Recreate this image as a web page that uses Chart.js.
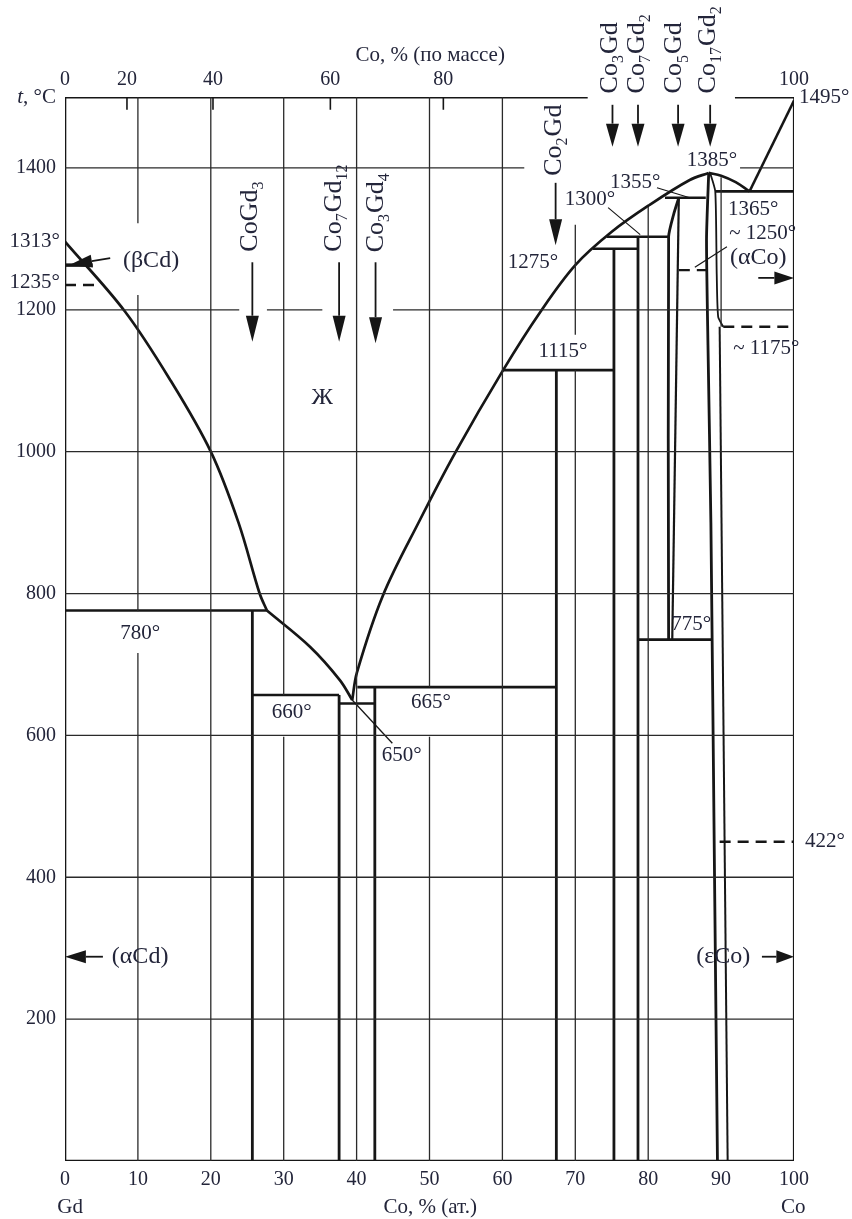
<!DOCTYPE html>
<html><head><meta charset="utf-8">
<script src="https://cdn.jsdelivr.net/npm/chart.js@4.4.1/dist/chart.umd.min.js"></script>
<style>html,body{margin:0;padding:0;background:#fff}#wrap{width:852px;height:1219px;position:relative}</style>
</head><body><div id="wrap"><canvas id="c"></canvas></div>
<script>
const INK = '#161616';
const GRID = '#2a2a2a';
const TXT = '#23253a';
const SERIF = '"Liberation Serif", "Times New Roman", serif';

// ---- axes ----
const xTickValues = [0,10,20,30,40,50,60,70,80,90,100];
const yTickValues = [200,400,600,800,1000,1200,1400];
const topTickPositions = [0, 8.5, 20.3, 36.4, 51.9, 100];   // where the mass-% marks sit (at.% scale)
const topTickLabels = ['0','20','40','60','80','100'];

// ---- phase boundaries  [at.% Co, °C] ----
const liquidusGd   = [[0,1296],[8.2,1198],[14.5,1100],[20,1000],[23.8,900],[26.7,800],[27.7,776]];
const liquidusMid  = [[27.7,776],[33.6,725],[37.7,678],[39.4,650]];
const liquidusCo   = [[39.4,650],[40.05,689],[43.6,797],[48.7,904],[53.5,998],[60.1,1115],[65.2,1197],[70.0,1263],[75.0,1310],[80.2,1348],[85.7,1383],[88.3,1393]];
const liquidusPeak = [[88.3,1393],[90,1389],[92,1380],[93.9,1367]];
const liquidusEnd  = [[93.9,1367],[100,1495]];
const leader650    = [[39.4,650],[44.9,589]];

const iso780  = [[0,776],[27.7,776]];
const iso660  = [[25.7,657],[37.6,657]];
const iso650  = [[37.6,645],[42.5,645]];
const iso665  = [[40.1,668],[67.4,668]];
const iso1115 = [[60.1,1115],[75.3,1115]];
const iso1275 = [[72.4,1286],[78.6,1286]];
const iso1300 = [[74.3,1303],[82.8,1303]];
const iso1355 = [[82.3,1358],[87.9,1358]];
const iso775  = [[78.6,735],[88.7,735]];
const iso1365 = [[89.2,1367],[100,1367]];
const solidusBetaGd = [[0,1263],[3.8,1263]];

const dash1235 = [[0,1235],[4.4,1235]];
const dash1250 = [[84.2,1256],[88.1,1256]];
const dash1175 = [[90.3,1176],[100,1176]];
const dash422  = [[89.8,450],[100,450]];

const lineCoGd3   = [[25.7,776],[25.7,0]];
const lineCo7Gd12 = [[37.6,657],[37.6,0]];
const lineCo3Gd4  = [[42.5,668],[42.5,0]];
const lineCo2Gd   = [[67.4,1115],[67.4,0]];
const lineCo3Gd   = [[75.3,1286],[75.3,0]];
const lineCo7Gd2  = [[78.6,1303],[78.6,0]];
const lineCo5GdL  = [[82.8,735],[82.8,1303],[83.5,1335],[84.2,1358]];
const lineCo5GdR  = [[83.3,735],[84.2,1358]];
const lineCo17Gd2 = [[88.3,1393],[88.0,1300],[88.2,1150],[88.6,900],[89.1,400],[89.5,0]];
const lineAlphaCo = [[88.5,1393],[89.2,1367],[89.4,1250],[89.6,1190],[90.3,1176]];
const lineEpsCo   = [[89.8,1176],[90.9,0]];

// leader lines of the labels
const leader1355 = [[81.2,1372],[85.7,1358]];
const leader1300 = [[74.5,1344],[78.9,1306]];
const leader1250 = [[86.4,1260],[90.8,1289]];

// ---- grid (value : visible spans) ----
const gridX = {10:[[0,716],[775,1221],[1322,1500]],20:[[0,1500]],30:[[0,598],[657,1500]],40:[[0,1500]],50:[[0,598],[668,1500]],60:[[0,1500]],70:[[0,1115],[1165,1320]],80:[[0,1345]],90:[[1176,1387]]};
const gridY = {200:[[0,100]],400:[[0,100]],600:[[0,100]],800:[[0,100]],1000:[[0,100]],1200:[[0,23.9],[27.7,35.3],[45,100]],1400:[[0,63],[92.6,100]]};

// frame
const frameLeft = [[0,0],[0,1500]];
const frameBottom = [[0,0],[100,0]];
const frameRight = [[100,0],[100,1495]];
const frameTopA = [[0,1500],[71.7,1500]];
const frameTopB = [[91.9,1500],[100,1500]];

// ---- texts ----
const textLabels = [
 ['1385°',88.75,1411,'n','center'],
 ['1355°',78.2,1380,'n','center'],
 ['1300°',72.0,1355,'n','center'],
 ['1275°',64.2,1267,'n','center'],
 ['1365°',94.4,1341,'n','center'],
 ['~ 1250°',95.7,1308,'n','center'],
 ['(αCo)',95.1,1273,'p','center'],
 ['~ 1175°',96.2,1146,'n','center'],
 ['1115°',68.3,1141,'n','center'],
 ['Ж',35.3,1076,'p','center'],
 ['780°',10.3,744,'n','center'],
 ['660°',31.1,633,'n','center'],
 ['665°',50.2,646,'n','center'],
 ['650°',46.2,571,'n','center'],
 ['775°',85.9,757,'n','center'],
 ['422°',101.5,450,'n','left'],
 ['1495°',100.7,1500,'n','left'],
 ['1313°',-0.7,1297,'n','right'],
 ['1235°',-0.7,1238,'n','right'],
 ['(αCd)',10.3,288,'p','center'],
 ['(εCo)',90.3,288,'p','center'],
 ['(βCd)',11.8,1269,'p','center'],
 ['Co, % (по массе)',50.1,1559,'a','center'],
 ['Gd',0.7,-65,'a','center'],
 ['Co, % (ат.)',50.1,-65,'a','center'],
 ['Co',99.9,-65,'a','center']
];
const compoundLabels = [
 {parts:[['Co',0],['Gd',0],['3',1]], x:25.4, t:1282},
 {parts:[['Co',0],['7',1],['Gd',0],['12',1]], x:36.9, t:1282},
 {parts:[['Co',0],['3',1],['Gd',0],['4',1]], x:42.7, t:1281},
 {parts:[['Co',0],['2',1],['Gd',0]], x:67.1, t:1389},
 {parts:[['Co',0],['3',1],['Gd',0]], x:74.8, t:1505},
 {parts:[['Co',0],['7',1],['Gd',0],['2',1]], x:78.5, t:1505},
 {parts:[['Co',0],['5',1],['Gd',0]], x:83.6, t:1505},
 {parts:[['Co',0],['17',1],['Gd',0],['2',1]], x:88.2, t:1505}
];
const arrows = [
 [25.7,1267,25.7,1155],[37.6,1267,37.6,1155],[42.6,1267,42.6,1153],[67.3,1379,67.3,1291],
 [75.1,1489,75.1,1430],[78.6,1489,78.6,1430],[84.1,1489,84.1,1430],[88.5,1489,88.5,1430],
 [5.2,288,0,288],[95.6,288,100,288],[95.1,1245,100,1245],[6.2,1273,0.6,1263]
];

// ---- datasets ----
const datasets = [];
function add(points, width, extra){
  datasets.push(Object.assign({data:points.map(p=>({x:p[0],y:p[1]})),showLine:true,pointRadius:0,pointHoverRadius:0,
    borderColor:INK,borderWidth:width,fill:false,tension:0,borderCapStyle:'butt'}, extra||{}));
}
Object.keys(gridX).forEach(v=>gridX[v].forEach(s=>add([[+v,s[0]],[+v,s[1]]],1.3,{borderColor:GRID})));
Object.keys(gridY).forEach(v=>gridY[v].forEach(s=>add([[s[0],+v],[s[1],+v]],1.3,{borderColor:GRID})));
topTickPositions.forEach(p=>add([[p,1500],[p,1482]],1.6));
const curve = {tension:0.35};
[liquidusGd,liquidusMid,liquidusCo,liquidusPeak].forEach(c=>add(c,2.7,curve));
add(liquidusEnd,2.5);
add(leader650,1.3);
[iso780,iso660,iso650,iso665,iso1115,iso1275,iso1300,iso1355,iso775,iso1365].forEach(c=>add(c,2.6));
add(solidusBetaGd,3.5);
[dash1235,dash1250,dash1175,dash422].forEach(c=>add(c,2.4,{borderDash:[11,7]}));
[lineCoGd3,lineCo7Gd12,lineCo3Gd4,lineCo2Gd,lineCo3Gd,lineCo7Gd2].forEach(c=>add(c,2.8));
add(lineCo5GdL,2.8,{tension:0.2}); add(lineCo5GdR,2.2);
add(lineCo17Gd2,2.8,{tension:0.2}); add(lineAlphaCo,1.8,{tension:0.2}); add(lineEpsCo,2.0);
[leader1355,leader1300,leader1250].forEach(c=>add(c,1.2));
add(frameLeft,2.6); add(frameBottom,2.6); add(frameRight,2.2); add(frameTopA,3.2); add(frameTopB,3.2);

// ---- drawing of texts and arrows ----
const FONT_N = '21px '+SERIF, FONT_P = '24px '+SERIF, FONT_A = '21px '+SERIF;
const annot = {
  id:'annot',
  afterDatasetsDraw(chart){
    const ctx = chart.ctx, X = v=>chart.scales.x.getPixelForValue(v), Y = v=>chart.scales.y.getPixelForValue(v);
    ctx.save();
    ctx.fillStyle = TXT; ctx.textBaseline = 'middle';
    textLabels.forEach(([t,x,y,k,al])=>{
      ctx.font = k==='p'?FONT_P:(k==='a'?FONT_A:FONT_N);
      ctx.textAlign = al; ctx.fillText(t, X(x), Y(y));
    });
    // t, °C
    ctx.textAlign='left';
    ctx.font = 'italic 21px '+SERIF; const w1 = ctx.measureText('t').width;
    ctx.font = '21px '+SERIF; const w2 = ctx.measureText(', °C').width;
    const x0 = X(0)-9-w1-w2, y0 = Y(1500);
    ctx.font = 'italic 21px '+SERIF; ctx.fillText('t', x0, y0);
    ctx.font = '21px '+SERIF; ctx.fillText(', °C', x0+w1, y0);
    // rotated compound labels
    compoundLabels.forEach(c=>{
      ctx.save(); ctx.translate(X(c.x), Y(c.t)); ctx.rotate(-Math.PI/2);
      let pos = 0;
      c.parts.forEach(([s,sub])=>{
        ctx.font = sub? '16px '+SERIF : '26px '+SERIF;
        ctx.fillText(s, pos, sub? 9 : 0);
        pos += ctx.measureText(s).width + (sub?1:0);
      });
      ctx.restore();
    });
    // arrows
    ctx.strokeStyle = INK; ctx.fillStyle = INK; ctx.lineWidth = 1.8;
    arrows.forEach(([a,b,c,d])=>{
      const x1=X(a),y1=Y(b),x2=X(c),y2=Y(d);
      const L=Math.hypot(x2-x1,y2-y1), ux=(x2-x1)/L, uy=(y2-y1)/L, hl=Math.min(26,L*0.55), hw=6.5;
      const bx=x2-ux*hl, by=y2-uy*hl;
      ctx.beginPath(); ctx.moveTo(x1,y1); ctx.lineTo(bx,by); ctx.stroke();
      ctx.beginPath(); ctx.moveTo(x2,y2); ctx.lineTo(bx-uy*hw,by+ux*hw); ctx.lineTo(bx+uy*hw,by-ux*hw); ctx.closePath(); ctx.fill();
    });
    ctx.restore();
  }
};

new Chart(document.getElementById('c'), {
  type:'scatter',
  data:{datasets},
  options:{
    responsive:true, maintainAspectRatio:false, animation:false,
    layout:{padding:{left:0,right:58,top:0,bottom:0}},
    plugins:{legend:{display:false},tooltip:{enabled:false}},
    events:[],
    scales:{
      x:{type:'linear',position:'bottom',min:0,max:100,
         afterBuildTicks:s=>{s.ticks=xTickValues.map(v=>({value:v}));},
         afterFit:s=>{s.height=58;},
         grid:{display:false,drawTicks:false},border:{display:false},
         ticks:{autoSkip:false,maxRotation:0,padding:7,color:TXT,font:{family:SERIF,size:20},callback:v=>String(v)}},
      x2:{type:'linear',position:'top',min:0,max:100,
         afterBuildTicks:s=>{s.ticks=topTickPositions.map(v=>({value:v}));},
         afterFit:s=>{s.height=97;},
         grid:{display:false,drawTicks:false},border:{display:false},
         ticks:{autoSkip:false,maxRotation:0,padding:5,color:TXT,font:{family:SERIF,size:20},
                callback:(v,i)=>topTickLabels[i]}},
      y:{type:'linear',min:0,max:1500,
         afterBuildTicks:s=>{s.ticks=yTickValues.map(v=>({value:v}));},
         afterFit:s=>{s.width=65;},
         grid:{display:false,drawTicks:false},border:{display:false},
         ticks:{padding:9,color:TXT,font:{family:SERIF,size:20},callback:v=>String(v)}}
    }
  },
  plugins:[annot]
});
</script></body></html>
